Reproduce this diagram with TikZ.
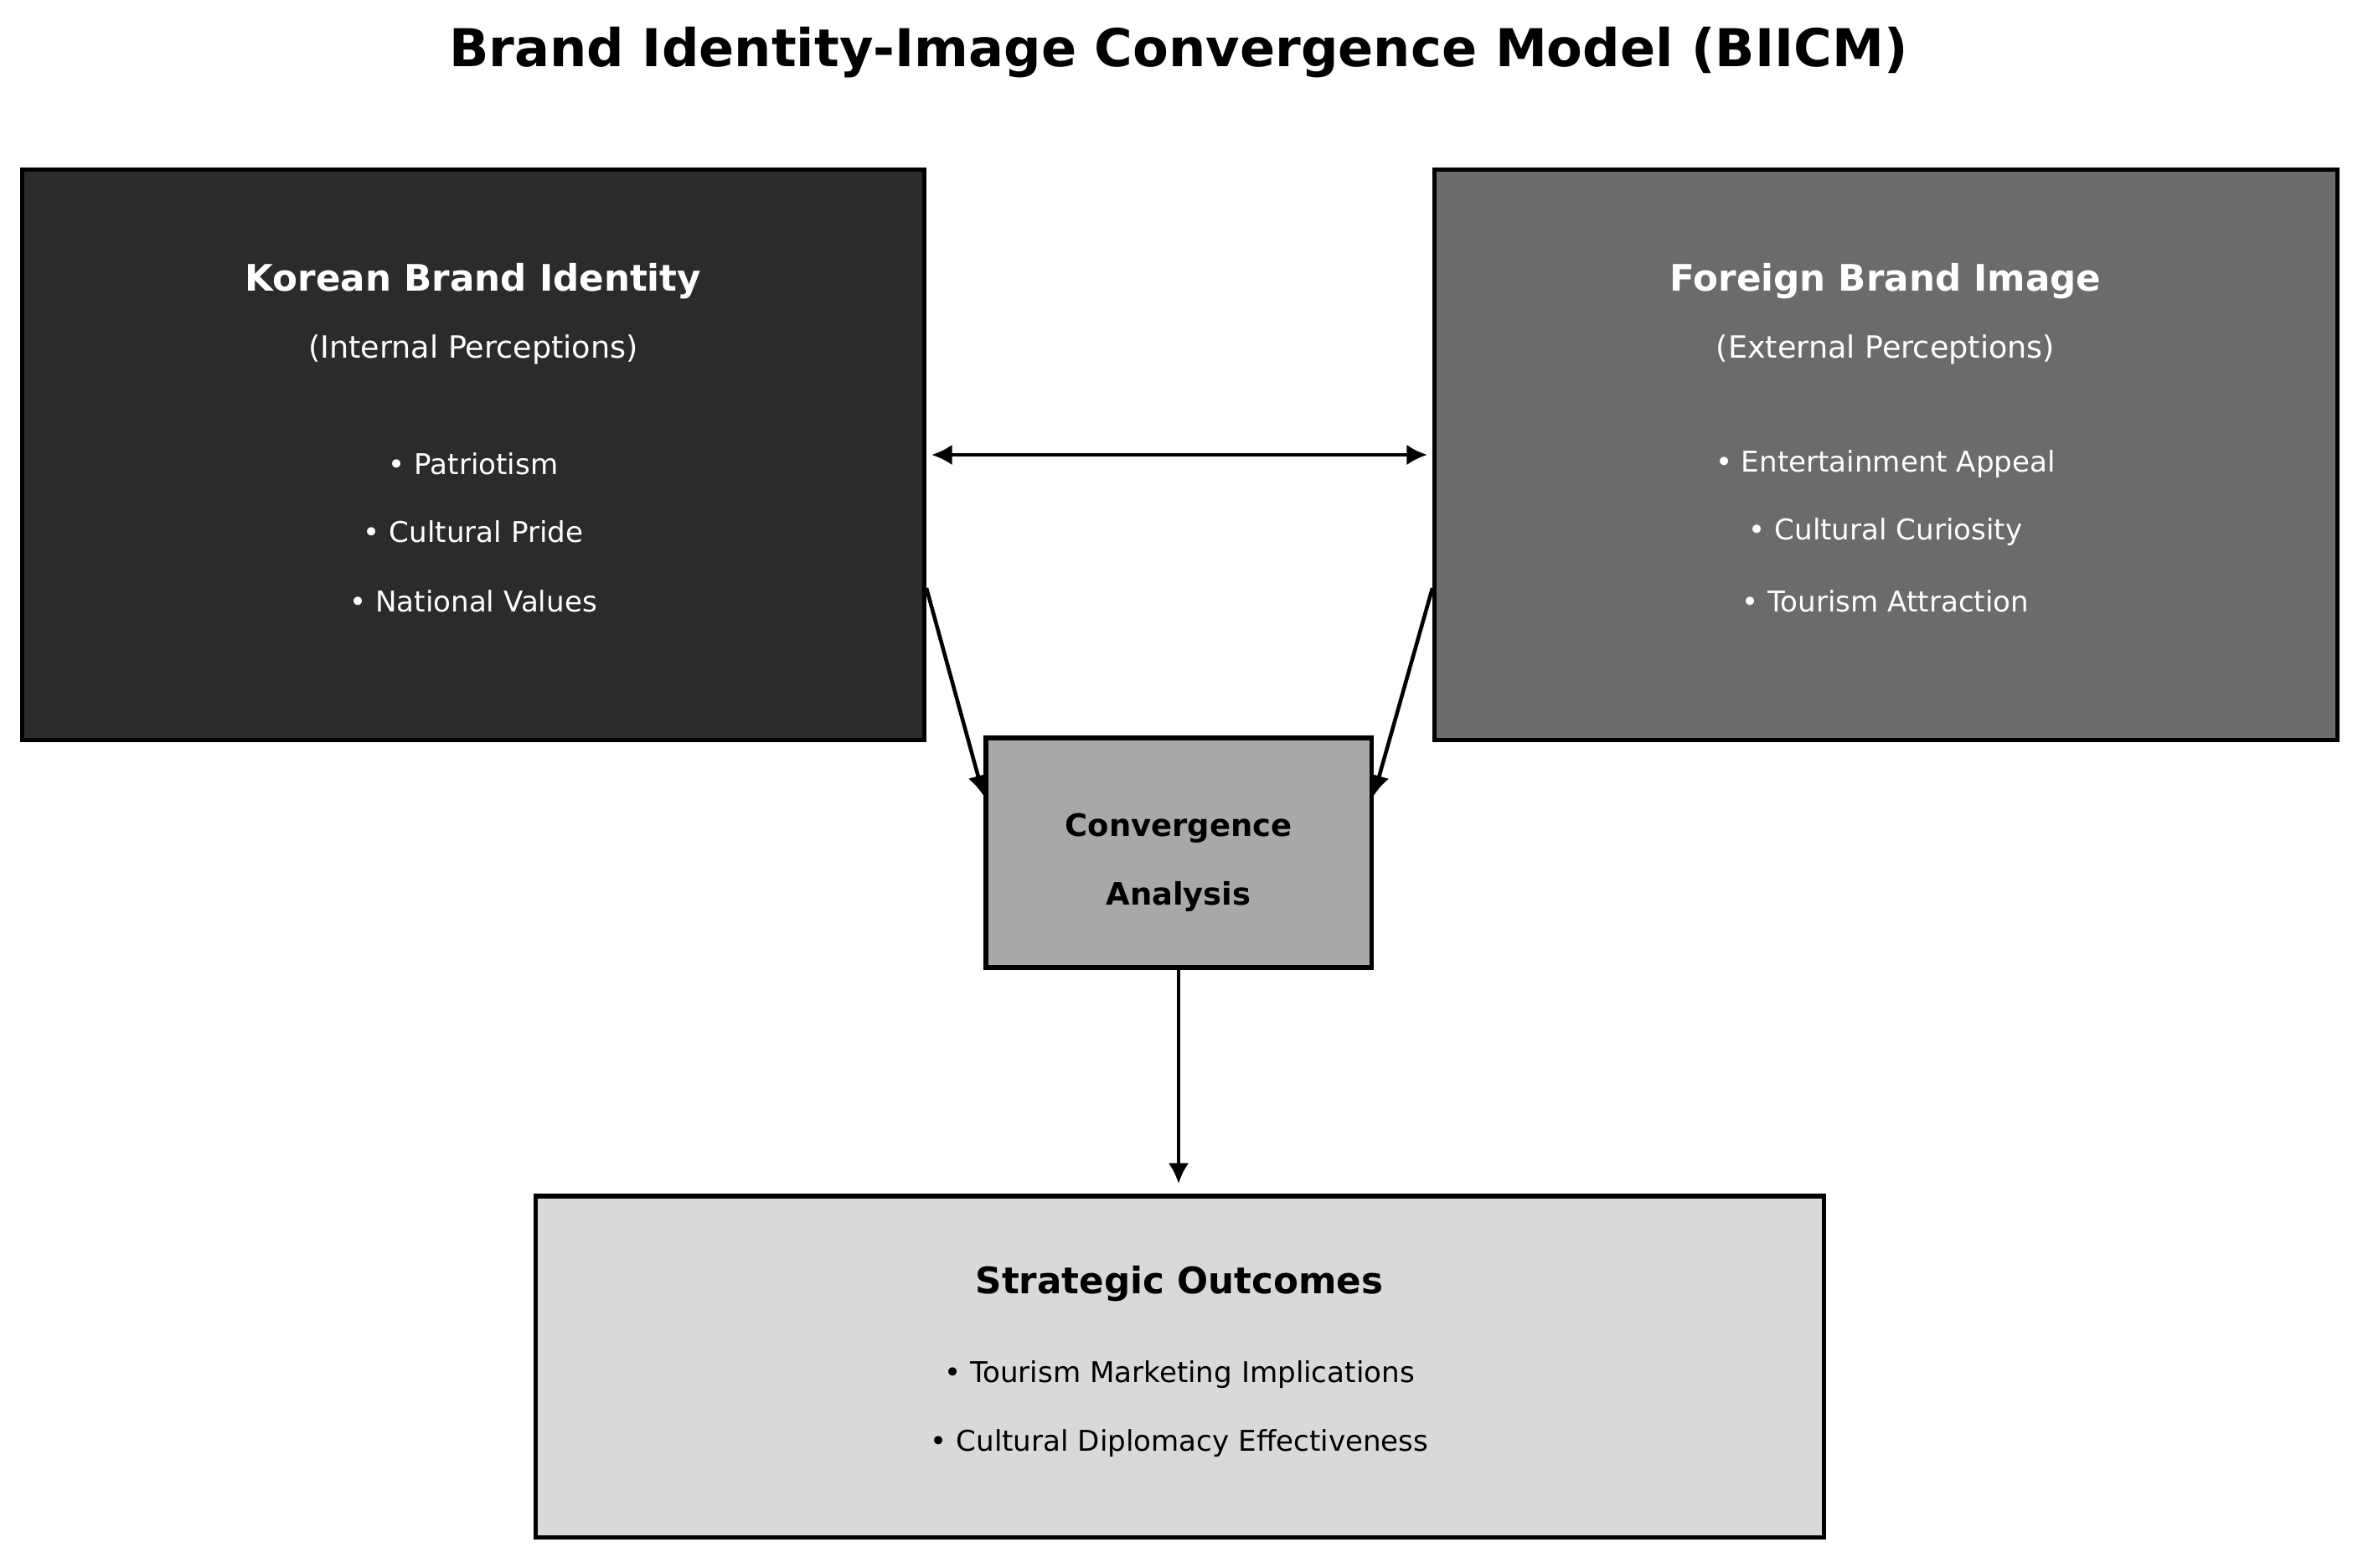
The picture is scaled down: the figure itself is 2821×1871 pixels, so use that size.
\documentclass[tikz,border=0pt]{standalone}
\usepackage{fontspec}
\setmainfont{DejaVu Sans}
\usetikzlibrary{arrows.meta,calc}
\definecolor{cdark}{HTML}{2B2B2B}
\definecolor{cmid}{HTML}{6B6B6B}
\definecolor{clight}{HTML}{A8A8A8}
\definecolor{cpale}{HTML}{D9D9D9}
\begin{document}
\begin{tikzpicture}[x=0.01cm,y=-0.01cm,
  box/.style={draw=black, line width=1.5pt, rectangle, inner sep=0pt},
  head/.style={font=\fontsize{12.4}{14}\selectfont\bfseries, inner sep=0pt},
  sub/.style={font=\fontsize{10.4}{12}\selectfont, inner sep=0pt},
  item/.style={font=\fontsize{9.7}{11}\selectfont, inner sep=0pt},
  conn/.style={line width=1.3pt, -{Latex[length=7pt,width=7pt]}},
  dconn/.style={line width=1.3pt, {Latex[length=7pt,width=7pt]}-{Latex[length=7pt,width=7pt]}}]
\useasboundingbox[fill=white] (0,0) rectangle (2821,1871);

\node[font=\fontsize{17.7}{20}\selectfont\bfseries, inner sep=0pt] (title) at (1407,63) {Brand Identity-Image Convergence Model (BIICM)};

\node[box, fill=cdark, minimum width=10.76cm, minimum height=6.8cm] (kbi) at (565,543) {};
\node[box, fill=cmid, minimum width=10.77cm, minimum height=6.8cm] (fbi) at (2251.5,543) {};
\node[box, fill=clight, minimum width=4.6cm, minimum height=2.74cm] (conv) at (1407,1018) {};
\node[box, fill=cpale, minimum width=15.37cm, minimum height=4.07cm] (out) at (1408.5,1631.5) {};

% left box text
\node[head, text=white] (kbih) at (565,336) {Korean Brand Identity};
\node[sub, text=white] (kbis) at (565,417) {(Internal Perceptions)};
\node[item, text=white] (kbi1) at (565,554) {• Patriotism};
\node[item, text=white] (kbi2) at (565,635) {• Cultural Pride};
\node[item, text=white] (kbi3) at (565,718) {• National Values};

% right box text
\node[head, text=white] (fbih) at (2251,336) {Foreign Brand Image};
\node[sub, text=white] (fbis) at (2251,417) {(External Perceptions)};
\node[item, text=white] (fbi1) at (2251,554) {• Entertainment Appeal};
\node[item, text=white] (fbi2) at (2251,635) {• Cultural Curiosity};
\node[item, text=white] (fbi3) at (2251,718) {• Tourism Attraction};

% center text
\node[head, font=\fontsize{10.5}{12}\selectfont\bfseries] (convh1) at (1407,989) {Convergence};
\node[head, font=\fontsize{10.5}{12}\selectfont\bfseries] (convh2) at (1407,1070) {Analysis};

% bottom text
\node[head] (outh) at (1408,1533) {Strategic Outcomes};
\node[item] (out1) at (1408,1641) {• Tourism Marketing Implications};
\node[item] (out2) at (1408,1723) {• Cultural Diplomacy Effectiveness};

% connectors
\draw[dconn] ($(kbi.east)+(6,0)$) -- ($(fbi.west)+(-6,0)$);
\coordinate (ls) at ($(kbi.east)+(0,159)$);
\coordinate (le) at ($(conv.north west)+(0,72)$);
\coordinate (rs) at ($(fbi.west)+(0,159)$);
\coordinate (re) at ($(conv.north east)+(0,72)$);
\coordinate (be) at ($(conv.south |- out.north)+(0,-12)$);
\draw[conn] (ls) -- (le);
\draw[conn] (rs) -- (re);
\draw[conn] (conv.south) -- (be);
\end{tikzpicture}
\end{document}
